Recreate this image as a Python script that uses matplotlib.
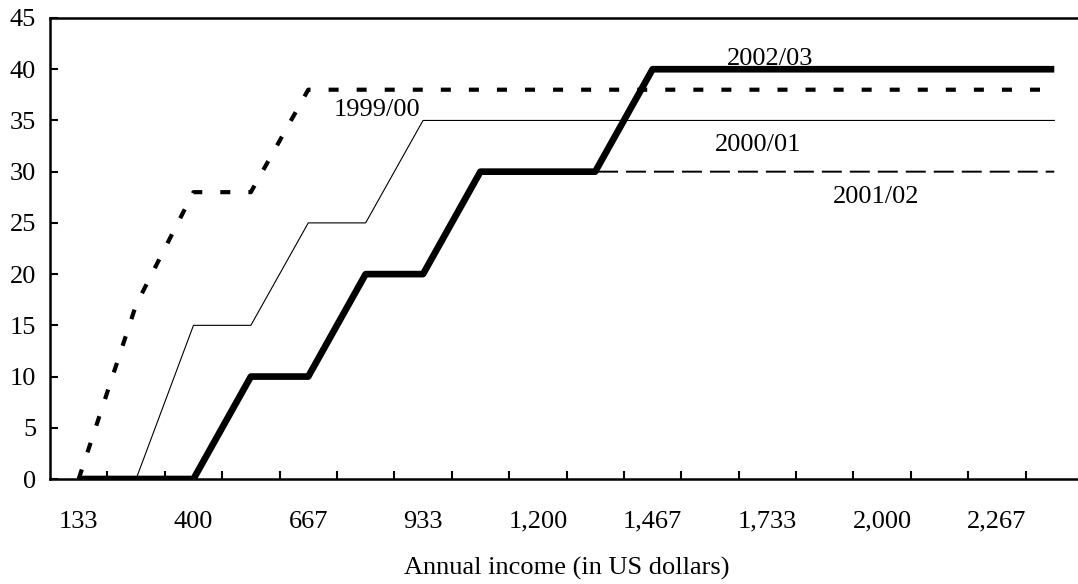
import matplotlib.pyplot as plt
import numpy as np

# income categories (US dollars), one every 133.33
categories = [133, 267, 400, 533, 667, 800, 933, 1067, 1200,
              1333, 1467, 1600, 1733, 1867, 2000, 2133, 2267, 2400]
xlabels = ['133', '400', '667', '933', '1,200', '1,467', '1,733', '2,000', '2,267']

y_9900 = [0, 17, 28, 28, 38, 38, 38, 38, 38, 38, 38, 38, 38, 38, 38, 38, 38, 38]
y_0001 = [0, 0, 15, 15, 25, 25, 35, 35, 35, 35, 35, 35, 35, 35, 35, 35, 35, 35]
y_0102 = [0, 0, 0, 10, 10, 20, 20, 30, 30, 30, 30, 30, 30, 30, 30, 30, 30, 30]
y_0203 = [0, 0, 0, 10, 10, 20, 20, 30, 30, 30, 40, 40, 40, 40, 40, 40, 40, 40]

plt.rcParams['font.family'] = ['Liberation Serif', 'DejaVu Serif']
fs = 19

fig = plt.figure(figsize=(10.78, 5.84), dpi=100)
ax = fig.add_axes([50/1078, 1-479/584, 1033/1078, 461/584])

x = np.arange(1, len(categories) + 1)

ax.plot(x, y_0102, color='black', lw=1.4, dashes=(20/1.4/1.39, 8/1.4/1.39))
ax.plot(x, y_0001, color='black', lw=0.8)
ax.plot(x, y_9900, color='black', lw=3.0, dashes=(7.2/3.0, 13/3.0))
ax.plot(x, y_0203, color='black', lw=4.8, solid_capstyle='butt')

ax.text(6.2, 36.0, '1999/00', fontsize=fs, ha='center', va='center')
ax.text(13.04, 41.0, '2002/03', fontsize=fs, ha='center', va='center')
ax.text(12.83, 32.6, '2000/01', fontsize=fs, ha='center', va='center')
ax.text(14.89, 27.5, '2001/02', fontsize=fs, ha='center', va='center')

ax.set_xlim(0.5, len(categories) + 0.5)
ax.set_ylim(0, 45)

# tick marks between categories, labels on every other category
ax.set_xticks(np.arange(1.5, len(categories) + 0.5, 1))
ax.set_xticklabels([])
ax.set_xticks(x[::2], minor=True)
ax.set_xticklabels(xlabels, minor=True, fontsize=fs)
ax.tick_params(axis='x', which='major', direction='in', length=6, width=1.5)
ax.tick_params(axis='x', which='minor', length=0, pad=23)

ax.set_yticks(np.arange(0, 46, 5))
ax.tick_params(axis='y', direction='in', length=6, width=1.5, pad=10, labelsize=fs)

ax.set_xlabel('Annual income (in US dollars)', fontsize=fs, labelpad=17)

for s in ['left', 'bottom', 'top']:
    ax.spines[s].set_linewidth(1.8)
ax.spines['right'].set_visible(False)

fig.savefig('out.png', dpi=100)
